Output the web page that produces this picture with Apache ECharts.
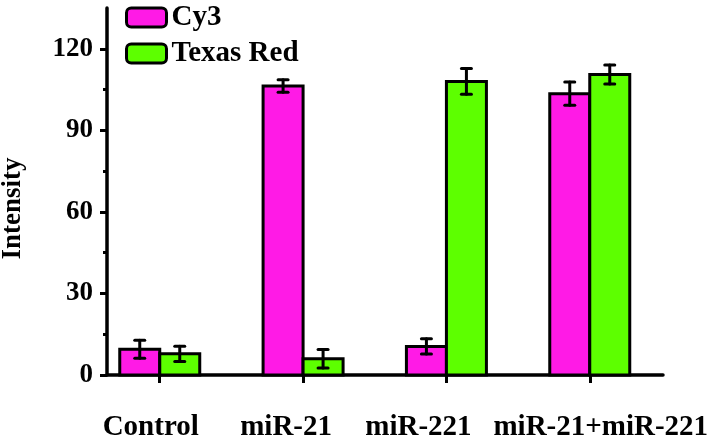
<!DOCTYPE html>
<html>
<head>
<meta charset="utf-8">
<script src="https://cdn.jsdelivr.net/npm/echarts@6/dist/echarts.min.js"></script>
<style>html,body{margin:0;padding:0;background:#fff}#c{width:716px;height:436px}</style>
</head>
<body>
<div id="c"></div>
<script>
const categories = ['Control', 'miR-21', 'miR-221', 'miR-21+miR-221'];
const cy3 = [9.5, 106.3, 10.5, 103.5];
const cy3Err = [3.3, 2.3, 2.8, 4.3];
const texasRed = [7.8, 6.0, 108.0, 110.5];
const texasRedErr = [2.8, 3.4, 4.7, 3.5];
const yMajorTicks = [0, 30, 60, 90, 120];
const yMinorTicks = [15, 45, 75, 105];

const positions = categories.map((c, i) => i + 1);
const FONT = 'Liberation Serif, Times New Roman, serif';
const BAR_W = 40;
const labelFont = { fontFamily: FONT, fontWeight: 'bold', fontSize: 29, color: '#000' };

function barSeries(name, vals, color, dx) {
  return {
    name: name,
    type: 'custom',
    z: 2,
    data: positions.map((p, i) => [p, vals[i]]),
    encode: { x: 0, y: 1 },
    itemStyle: { color: color, borderColor: '#000', borderWidth: 3 },
    renderItem: function (params, api) {
      const x = api.value(0), v = api.value(1);
      const top = api.coord([x, v]);
      const base = api.coord([x, 0]);
      return {
        type: 'rect',
        shape: { x: top[0] + dx, y: top[1], width: BAR_W, height: base[1] - top[1] },
        style: { fill: color, stroke: '#000', lineWidth: 3 }
      };
    }
  };
}

function errSeries(vals, errs, dx) {
  return {
    type: 'custom',
    z: 10,
    data: positions.map((p, i) => [p, vals[i], errs[i]]),
    encode: { x: 0, y: 1 },
    renderItem: function (params, api) {
      const x = api.value(0), v = api.value(1), e = api.value(2);
      const t = api.coord([x, v + e]);
      const b = api.coord([x, v - e]);
      const cx = t[0] + dx;
      const st = { stroke: '#000', lineWidth: 3, lineCap: 'round' };
      return {
        type: 'group',
        children: [
          { type: 'line', shape: { x1: cx, y1: t[1], x2: cx, y2: b[1] }, style: st },
          { type: 'line', shape: { x1: cx - 5, y1: t[1], x2: cx + 5, y2: t[1] }, style: st },
          { type: 'line', shape: { x1: cx - 5, y1: b[1], x2: cx + 5, y2: b[1] }, style: st }
        ]
      };
    }
  };
}

const labelPad = [[0, 18, 0, 0], [0, 34, 0, 0], [0, 56, 0, 0], [0, 0, 0, 22]];
const rich = {};
labelPad.forEach((p, i) => { rich['c' + i] = Object.assign({ padding: p }, labelFont); });

const chart = echarts.init(document.getElementById('c'));
chart.setOption({
  animation: false,
  backgroundColor: '#fff',
  textStyle: { fontFamily: FONT },
  grid: { left: 107, right: 53, top: 8, bottom: 61, containLabel: false, outerBoundsMode: 'none' },
  legend: {
    data: ['Cy3', 'Texas Red'],
    orient: 'vertical',
    left: 125,
    top: 3,
    padding: 0,
    itemWidth: 40,
    itemHeight: 19,
    itemGap: 7,
    icon: 'roundRect',
    itemStyle: { borderColor: '#000', borderWidth: 3 },
    textStyle: Object.assign({}, labelFont)
  },
  xAxis: {
    type: 'value',
    min: 0.632,
    max: 4.511,
    splitLine: { show: false },
    axisLine: { lineStyle: { color: '#000', width: 3.5 } },
    axisTick: { customValues: positions, length: 8, lineStyle: { color: '#000', width: 3 } },
    axisLabel: Object.assign({
      customValues: positions,
      showMinLabel: true,
      showMaxLabel: true,
      hideOverlap: false,
      formatter: v => { const i = Math.round(v) - 1; return categories[i] ? '{c' + i + '|' + categories[i] + '}' : ''; },
      margin: 38,
      rich: rich
    }, labelFont)
  },
  yAxis: [{
    type: 'value',
    min: 0,
    max: 135,
    name: 'Intensity',
    nameLocation: 'middle',
    nameGap: 80,
    nameTextStyle: { fontFamily: FONT, fontWeight: 'bold', fontSize: 27, color: '#000', padding: [0, 34, 0, 0] },
    splitLine: { show: false },
    axisLine: { show: true, lineStyle: { color: '#000', width: 3.5 } },
    axisTick: { customValues: yMajorTicks, length: 7, lineStyle: { color: '#000', width: 3 } },
    axisLabel: { customValues: yMajorTicks, margin: 14, fontFamily: FONT, fontWeight: 'bold', fontSize: 27, color: '#000' }
  }, {
    type: 'value',
    min: 0,
    max: 135,
    position: 'left',
    splitLine: { show: false },
    axisLine: { show: false },
    axisTick: { customValues: yMinorTicks, length: 4, lineStyle: { color: '#000', width: 3 } },
    axisLabel: { show: false }
  }],
  series: [
    barSeries('Cy3', cy3, '#ff1ae6', -BAR_W),
    barSeries('Texas Red', texasRed, '#5dff00', 0),
    errSeries(cy3, cy3Err, -BAR_W / 2),
    errSeries(texasRed, texasRedErr, BAR_W / 2)
  ]
});
</script>
</body>
</html>
